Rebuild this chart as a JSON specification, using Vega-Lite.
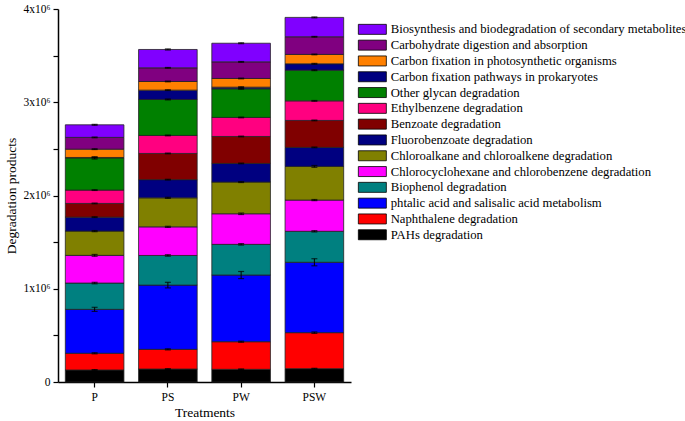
{
  "$schema": "https://vega.github.io/schema/vega-lite/v6.json",
  "autosize": "none",
  "width": 293,
  "height": 373,
  "padding": {"left": 58, "top": 9, "right": 334, "bottom": 39},
  "background": "white",
  "config": {
    "view": {"stroke": null},
    "font": "Liberation Serif",
    "axis": {
      "labelFont": "Liberation Serif",
      "titleFont": "Liberation Serif",
      "labelColor": "black",
      "titleColor": "black",
      "domainColor": "black",
      "tickColor": "black",
      "domainWidth": 1.5,
      "tickWidth": 1.2,
      "grid": false,
      "titleFontWeight": "normal"
    }
  },
  "data": {
    "values": [
      {"t": "P", "c": "PAHs degradation", "i": 1, "v": 129000, "e": 4000},
      {"t": "P", "c": "Naphthalene degradation", "i": 2, "v": 179000, "e": 6000},
      {"t": "P", "c": "phtalic acid and salisalic acid metabolism", "i": 3, "v": 471000, "e": 22000},
      {"t": "P", "c": "Biophenol degradation", "i": 4, "v": 282000, "e": 8000},
      {"t": "P", "c": "Chlorocyclohexane and chlorobenzene degradation", "i": 5, "v": 297000, "e": 10000},
      {"t": "P", "c": "Chloroalkane and chloroalkene degradation", "i": 6, "v": 260000, "e": 6000},
      {"t": "P", "c": "Fluorobenzoate degradation", "i": 7, "v": 150000, "e": 4000},
      {"t": "P", "c": "Benzoate degradation", "i": 8, "v": 147000, "e": 4000},
      {"t": "P", "c": "Ethylbenzene degradation", "i": 9, "v": 143000, "e": 4000},
      {"t": "P", "c": "Other glycan degradation", "i": 10, "v": 345000, "e": 12000},
      {"t": "P", "c": "Carbon fixation pathways in prokaryotes", "i": 11, "v": 5000, "e": 3000},
      {"t": "P", "c": "Carbon fixation in photosynthetic organisms", "i": 12, "v": 89000, "e": 4000},
      {"t": "P", "c": "Carbohydrate digestion and absorption", "i": 13, "v": 126000, "e": 4000},
      {"t": "P", "c": "Biosynthesis and biodegradation of secondary metabolites", "i": 14, "v": 135000, "e": 5000},
      {"t": "PS", "c": "PAHs degradation", "i": 1, "v": 139000, "e": 4000},
      {"t": "PS", "c": "Naphthalene degradation", "i": 2, "v": 211000, "e": 6000},
      {"t": "PS", "c": "phtalic acid and salisalic acid metabolism", "i": 3, "v": 689000, "e": 30000},
      {"t": "PS", "c": "Biophenol degradation", "i": 4, "v": 318000, "e": 8000},
      {"t": "PS", "c": "Chlorocyclohexane and chlorobenzene degradation", "i": 5, "v": 307000, "e": 6000},
      {"t": "PS", "c": "Chloroalkane and chloroalkene degradation", "i": 6, "v": 311000, "e": 6000},
      {"t": "PS", "c": "Fluorobenzoate degradation", "i": 7, "v": 195000, "e": 4000},
      {"t": "PS", "c": "Benzoate degradation", "i": 8, "v": 281000, "e": 4000},
      {"t": "PS", "c": "Ethylbenzene degradation", "i": 9, "v": 193000, "e": 4000},
      {"t": "PS", "c": "Other glycan degradation", "i": 10, "v": 386000, "e": 5000},
      {"t": "PS", "c": "Carbon fixation pathways in prokaryotes", "i": 11, "v": 100000, "e": 4000},
      {"t": "PS", "c": "Carbon fixation in photosynthetic organisms", "i": 12, "v": 93000, "e": 4000},
      {"t": "PS", "c": "Carbohydrate digestion and absorption", "i": 13, "v": 146000, "e": 4000},
      {"t": "PS", "c": "Biosynthesis and biodegradation of secondary metabolites", "i": 14, "v": 197000, "e": 6000},
      {"t": "PW", "c": "PAHs degradation", "i": 1, "v": 136000, "e": 4000},
      {"t": "PW", "c": "Naphthalene degradation", "i": 2, "v": 296000, "e": 6000},
      {"t": "PW", "c": "phtalic acid and salisalic acid metabolism", "i": 3, "v": 715000, "e": 38000},
      {"t": "PW", "c": "Biophenol degradation", "i": 4, "v": 329000, "e": 8000},
      {"t": "PW", "c": "Chlorocyclohexane and chlorobenzene degradation", "i": 5, "v": 328000, "e": 8000},
      {"t": "PW", "c": "Chloroalkane and chloroalkene degradation", "i": 6, "v": 340000, "e": 5000},
      {"t": "PW", "c": "Fluorobenzoate degradation", "i": 7, "v": 200000, "e": 4000},
      {"t": "PW", "c": "Benzoate degradation", "i": 8, "v": 289000, "e": 4000},
      {"t": "PW", "c": "Ethylbenzene degradation", "i": 9, "v": 204000, "e": 4000},
      {"t": "PW", "c": "Other glycan degradation", "i": 10, "v": 307000, "e": 4000},
      {"t": "PW", "c": "Carbon fixation pathways in prokaryotes", "i": 11, "v": 18000, "e": 4000},
      {"t": "PW", "c": "Carbon fixation in photosynthetic organisms", "i": 12, "v": 93000, "e": 4000},
      {"t": "PW", "c": "Carbohydrate digestion and absorption", "i": 13, "v": 178000, "e": 4000},
      {"t": "PW", "c": "Biosynthesis and biodegradation of secondary metabolites", "i": 14, "v": 200000, "e": 5000},
      {"t": "PSW", "c": "PAHs degradation", "i": 1, "v": 143000, "e": 4000},
      {"t": "PSW", "c": "Naphthalene degradation", "i": 2, "v": 386000, "e": 8000},
      {"t": "PSW", "c": "phtalic acid and salisalic acid metabolism", "i": 3, "v": 755000, "e": 38000},
      {"t": "PSW", "c": "Biophenol degradation", "i": 4, "v": 332000, "e": 7000},
      {"t": "PSW", "c": "Chlorocyclohexane and chlorobenzene degradation", "i": 5, "v": 335000, "e": 6000},
      {"t": "PSW", "c": "Chloroalkane and chloroalkene degradation", "i": 6, "v": 361000, "e": 10000},
      {"t": "PSW", "c": "Fluorobenzoate degradation", "i": 7, "v": 204000, "e": 4000},
      {"t": "PSW", "c": "Benzoate degradation", "i": 8, "v": 289000, "e": 4000},
      {"t": "PSW", "c": "Ethylbenzene degradation", "i": 9, "v": 210000, "e": 4000},
      {"t": "PSW", "c": "Other glycan degradation", "i": 10, "v": 329000, "e": 5000},
      {"t": "PSW", "c": "Carbon fixation pathways in prokaryotes", "i": 11, "v": 68000, "e": 5000},
      {"t": "PSW", "c": "Carbon fixation in photosynthetic organisms", "i": 12, "v": 101000, "e": 4000},
      {"t": "PSW", "c": "Carbohydrate digestion and absorption", "i": 13, "v": 189000, "e": 4000},
      {"t": "PSW", "c": "Biosynthesis and biodegradation of secondary metabolites", "i": 14, "v": 208000, "e": 5000}
    ]
  },
  "transform": [
    {"stack": "v", "groupby": ["t"], "sort": [{"field": "i", "order": "ascending"}], "as": ["y0", "y1"]}
  ],
  "encoding": {
    "x": {
      "field": "t",
      "type": "nominal",
      "sort": ["P", "PS", "PW", "PSW"],
      "scale": {"paddingInner": 0.2, "paddingOuter": 0.1},
      "axis": {
        "title": "Treatments",
        "labelAngle": 0,
        "labelFontSize": 11.5,
        "titleFontSize": 13.5,
        "tickSize": 5,
        "labelPadding": 4,
        "titlePadding": 3
      }
    }
  },
  "layer": [
    {
      "mark": {"type": "bar", "stroke": "#222222", "strokeWidth": 0.8},
      "encoding": {
        "y": {
          "field": "y1",
          "type": "quantitative",
          "title": "Degradation products",
          "scale": {"domain": [0, 4000000], "nice": false},
          "axis": {
            "title": "Degradation products",
            "titleFontSize": 13.5,
            "labelFontSize": 11.5,
            "tickSize": 5,
            "labelPadding": 3,
            "titlePadding": 4,
            "values": [0, 500000, 1000000, 1500000, 2000000, 2500000, 3000000, 3500000, 4000000],
            "labelExpr": "datum.value == 0 ? '0' : (datum.value % 1000000 == 0 ? format(datum.value / 1000000, 'd') + 'x10⁶' : '')"
          }
        },
        "y2": {"field": "y0"},
        "color": {
          "field": "c",
          "type": "nominal",
          "scale": {
            "domain": [
              "Biosynthesis and biodegradation of secondary metabolites",
              "Carbohydrate digestion and absorption",
              "Carbon fixation in photosynthetic organisms",
              "Carbon fixation pathways in prokaryotes",
              "Other glycan degradation",
              "Ethylbenzene degradation",
              "Benzoate degradation",
              "Fluorobenzoate degradation",
              "Chloroalkane and chloroalkene degradation",
              "Chlorocyclohexane and chlorobenzene degradation",
              "Biophenol degradation",
              "phtalic acid and salisalic acid metabolism",
              "Naphthalene degradation",
              "PAHs degradation"
            ],
            "range": ["#8000FF", "#800080", "#FF8000", "#000080", "#008000", "#FF0080", "#800000", "#000080", "#808000", "#FF00FF", "#008080", "#0000FF", "#FF0000", "#000000"]
          },
          "legend": {
            "title": null,
            "orient": "none",
            "legendX": 299,
            "legendY": 14,
            "symbolType": "M-1,-1H4.6V1H-1Z",
            "symbolSize": 100,
            "symbolStrokeColor": "black",
            "symbolStrokeWidth": 0.8,
            "symbolOpacity": 1,
            "labelFont": "Liberation Serif",
            "labelFontSize": 12.7,
            "labelColor": "black",
            "labelOffset": 21,
            "labelLimit": 400,
            "rowPadding": 0.8
          }
        }
      }
    },
    {
      "mark": {"type": "errorbar", "color": "black", "thickness": 1, "ticks": {"size": 6, "thickness": 1.2}},
      "encoding": {
        "y": {"field": "y1", "type": "quantitative", "title": "Degradation products"},
        "yError": {"field": "e"}
      }
    }
  ]
}
